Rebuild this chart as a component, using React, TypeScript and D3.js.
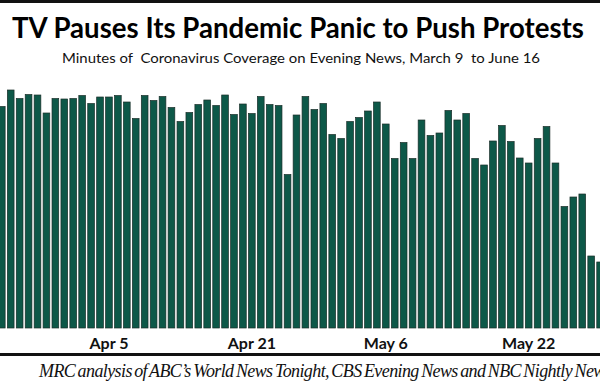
import React, { useEffect, useRef } from "react";
import * as d3 from "d3";

// first visible day, one bar per day after it
const startDay = "2020-03-24";
// minutes of coronavirus coverage (three networks combined), Mar 24 - May 30
const minutes = [
  44.3, 47.6, 45.9, 46.7, 46.6, 43.0, 45.9, 45.8, 45.9, 46.5, 44.9, 46.2, 46.2, 46.5,
  45.2, 41.9, 46.5, 45.5, 46.3, 44.1, 41.3, 43.1, 44.7, 45.6, 44.5, 46.6, 42.7, 44.8,
  42.9, 46.3, 44.7, 44.5, 30.7, 42.6, 46.3, 43.7, 44.9, 38.7, 37.9, 41.3, 42.1, 43.4,
  45.2, 40.8, 33.9, 37.1, 33.9, 41.6, 38.5, 39.0, 43.5, 41.6, 42.9, 33.9, 32.6, 37.4,
  40.5, 37.3, 34.0, 33.0, 37.9, 40.3, 33.0, 24.3, 26.2, 26.8, 14.4, 13.2,
];
const tickDays = ["2020-04-05", "2020-04-21", "2020-05-06", "2020-05-22"];
const tickLabels = ["Apr 5", "Apr 21", "May 6", "May 22"];

const title = "TV Pauses Its Pandemic Panic to Push Protests";
const subtitle = "Minutes of  Coronavirus Coverage on Evening News, March 9  to June 16";
const source = "MRC analysis of ABC\u2019s World News Tonight, CBS Evening News and NBC Nightly News";

export default function App() {
  const svgRef = useRef<SVGSVGElement>(null);

  useEffect(() => {
    const width = 600;
    const height = 385;
    const baseline = 328;

    const svg = d3.select(svgRef.current);
    svg.selectAll("*").remove();
    svg.attr("width", width).attr("height", height);

    const parse = d3.timeParse("%Y-%m-%d");
    const fmt = d3.timeFormat("%Y-%m-%d");
    const start = parse(startDay)!;
    const data = minutes.map((m, i) => ({ day: fmt(d3.timeDay.offset(start, i)), m }));

    // the picture is a crop, so the band range runs a little past both edges
    const x = d3
      .scaleBand()
      .domain(data.map((d) => d.day))
      .range([-3.8, 605.7])
      .padding(0.25);
    const y = d3.scaleLinear().domain([0, 50]).range([baseline, baseline - 250]);

    svg.append("rect").attr("width", width).attr("height", height).attr("fill", "#fff");

    // heavy rules top and bottom
    svg.append("line").attr("x1", 0).attr("x2", width).attr("y1", 1.5).attr("y2", 1.5)
      .attr("stroke", "#111").attr("stroke-width", 3);
    svg.append("line").attr("x1", 0).attr("x2", width).attr("y1", 354.5).attr("y2", 354.5)
      .attr("stroke", "#111").attr("stroke-width", 3);

    svg.append("text")
      .attr("x", 298).attr("y", 38)
      .attr("text-anchor", "middle")
      .attr("font-family", "Lato, 'Open Sans', sans-serif")
      .attr("font-weight", 700)
      .attr("font-size", 28)
      .attr("textLength", 572)
      .attr("lengthAdjust", "spacingAndGlyphs")
      .attr("fill", "#000")
      .text(title);

    svg.append("text")
      .attr("x", 301).attr("y", 63)
      .attr("text-anchor", "middle")
      .attr("font-family", "Lato, 'Open Sans', sans-serif")
      .attr("font-size", 14)
      .attr("textLength", 478)
      .attr("lengthAdjust", "spacingAndGlyphs")
      .attr("fill", "#111")
      .style("white-space", "pre")
      .text(subtitle);

    svg.append("g")
      .selectAll("rect")
      .data(data)
      .join("rect")
      .attr("x", (d) => x(d.day)!)
      .attr("y", (d) => y(d.m))
      .attr("width", x.bandwidth())
      .attr("height", (d) => baseline - y(d.m))
      .attr("fill", "#0d5848")
      .attr("stroke", "#1a2e29")
      .attr("stroke-width", 0.7);

    const xAxis = d3
      .axisBottom(x)
      .tickValues(tickDays)
      .tickFormat((d) => tickLabels[tickDays.indexOf(d)])
      .tickSize(0)
      .tickPadding(9.6);

    const axisG = svg.append("g").attr("transform", `translate(0 ${baseline})`).call(xAxis);
    axisG.select(".domain").remove();
    axisG.selectAll("text")
      .attr("font-family", "Lato, 'Open Sans', sans-serif")
      .attr("font-weight", 700)
      .attr("font-size", 16)
      .attr("fill", "#111");

    // source line runs off the right edge, as in the cropped original
    svg.append("text")
      .attr("x", 39).attr("y", 377)
      .attr("font-family", "'Liberation Serif', 'DejaVu Serif', serif")
      .attr("font-style", "italic")
      .attr("font-size", 18)
      .attr("letter-spacing", -0.6)
      .attr("word-spacing", -1.5)
      .attr("fill", "#111")
      .text(source);
  }, []);

  return (
    <>
      <style>{`body{margin:0}`}</style>
      <svg ref={svgRef} style={{ display: "block" }} />
    </>
  );
}
